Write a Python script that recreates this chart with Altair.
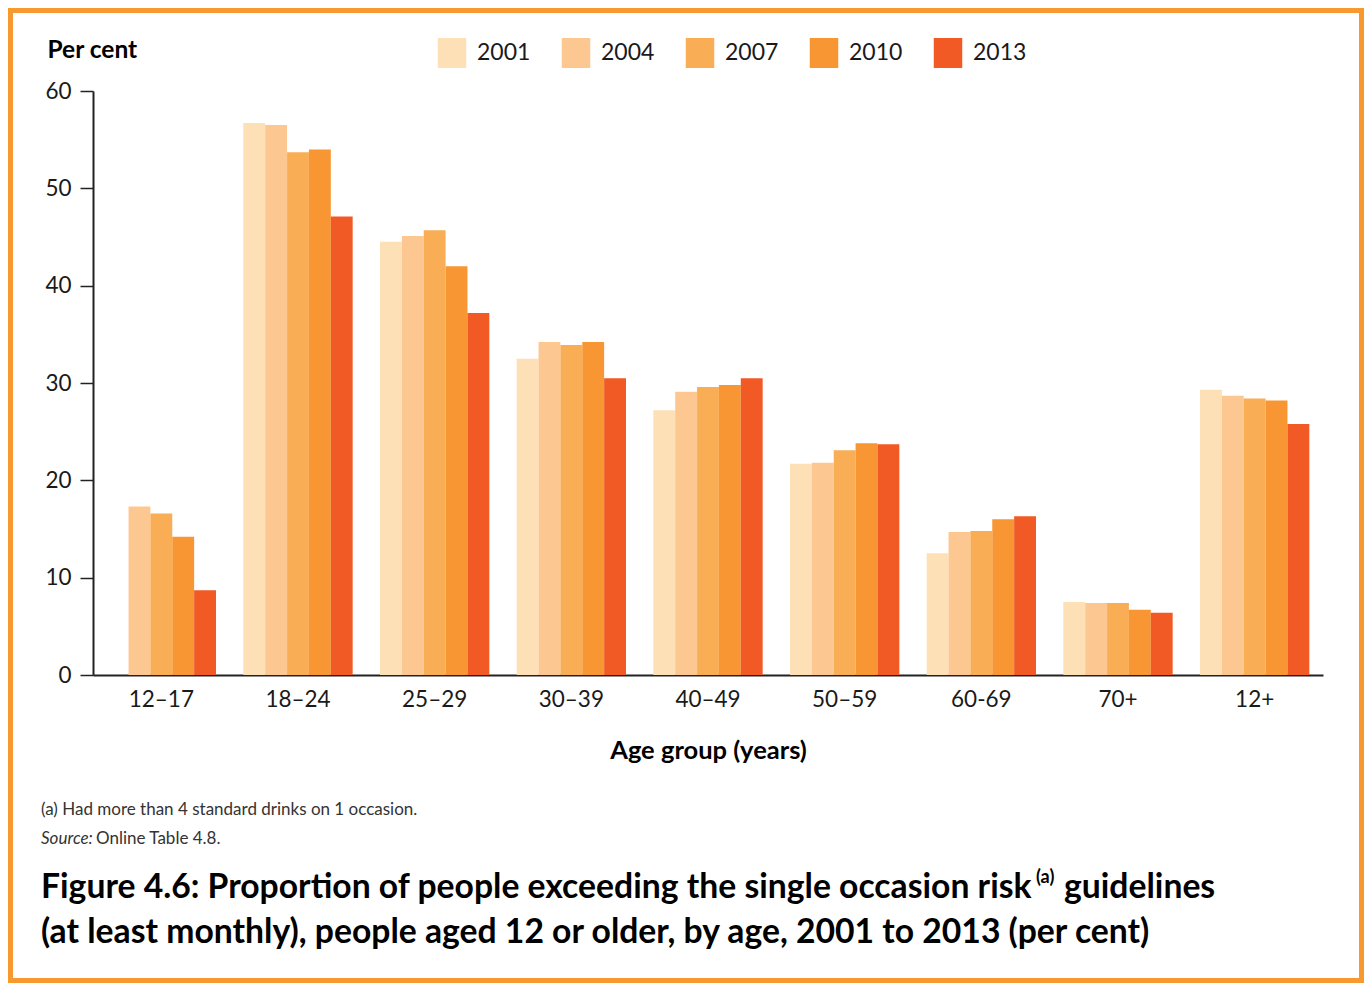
import altair as alt
import pandas as pd

# ---- data ----
ages = ["12–17", "18–24", "25–29", "30–39", "40–49", "50–59", "60-69", "70+", "12+"]
years = ["2001", "2004", "2007", "2010", "2013"]
v2001 = [None, 56.7, 44.5, 32.5, 27.2, 21.7, 12.5, 7.5, 29.3]
v2004 = [17.3, 56.5, 45.1, 34.2, 29.1, 21.8, 14.7, 7.4, 28.7]
v2007 = [16.6, 53.7, 45.7, 33.9, 29.6, 23.1, 14.8, 7.4, 28.4]
v2010 = [14.2, 54.0, 42.0, 34.2, 29.8, 23.8, 16.0, 6.7, 28.2]
v2013 = [8.7, 47.1, 37.2, 30.5, 30.5, 23.7, 16.3, 6.4, 25.8]
colors = ["#FDE0B6", "#FDC792", "#F9AE56", "#F79632", "#F15A24"]

series = dict(zip(years, [v2001, v2004, v2007, v2010, v2013]))
rows = []
for yr, vals in series.items():
    for a, v in zip(ages, vals):
        if v is not None:
            rows.append({"age": a, "year": yr, "value": v})
df = pd.DataFrame(rows)

FONT = "Lato"
INK = "#1a1a1a"

bars = alt.Chart(df).mark_bar().encode(
    x=alt.X("age:N", sort=ages,
            scale=alt.Scale(paddingInner=0.2, paddingOuter=0.1),
            axis=alt.Axis(title="Age group (years)", labelAngle=0, ticks=False,
                          labelFontSize=22.5, labelFont=FONT, labelColor=INK, labelPadding=13,
                          domainColor="#222222", domainWidth=2,
                          titleFont=FONT, titleFontSize=25.5, titleFontWeight="bold",
                          titleColor="#000000", titlePadding=28)),
    xOffset=alt.XOffset("year:N", sort=years, scale=alt.Scale(domain=years)),
    y=alt.Y("value:Q", scale=alt.Scale(domain=[0, 60]),
            axis=alt.Axis(values=[0, 10, 20, 30, 40, 50, 60], grid=False,
                          tickSize=13, tickColor="#222222", tickWidth=1.5,
                          domainColor="#222222", domainWidth=2,
                          labelFontSize=22.5, labelFont=FONT, labelColor=INK, labelPadding=9,
                          title="Per cent", titleAngle=0, titleAlign="left",
                          titleBaseline="middle", titleX=-46, titleY=-41,
                          titleFont=FONT, titleFontSize=24.5, titleFontWeight="bold",
                          titleColor="#000000")),
    color=alt.Color("year:N", sort=years,
                    scale=alt.Scale(domain=years, range=colors),
                    legend=alt.Legend(title=None, orient="none", legendX=344, legendY=-53,
                                      direction="horizontal",
                                      symbolType="M-0.95,-1H0.95V1H-0.95Z",
                                      symbolSize=900, symbolStrokeWidth=0, symbolOpacity=1,
                                      labelFont=FONT, labelFontSize=23, labelColor=INK,
                                      labelOffset=10, columnPadding=30)),
)

def txt(s, x, y, size, weight="normal", style="normal", color="#000000"):
    return alt.Chart(pd.DataFrame({"t": [s]})).mark_text(
        align="left", baseline="alphabetic", font=FONT, fontSize=size,
        fontWeight=weight, fontStyle=style, color=color
    ).encode(x=alt.value(x), y=alt.value(y), text="t:N")

note1 = txt("(a) Had more than 4 standard drinks on 1 occasion.", -52, 724, 17, color="#333333")
note2a = txt("Source:", -52, 753, 17, style="italic", color="#333333")
note2b = txt("Online Table 4.8.", 3, 753, 17, color="#333333")
t1a = txt("Figure 4.6: Proportion of people exceeding the single occasion risk", -52, 807, 33.7, weight="bold")
t1b = txt("(a)", 943, 792, 18, weight="bold")
t1c = txt("guidelines", 971, 807, 33.7, weight="bold")
t2 = txt("(at least monthly), people aged 12 or older, by age, 2001 to 2013 (per cent)", -52, 852, 33.7, weight="bold")

border = alt.Chart(pd.DataFrame({"a": [0]})).mark_rect(
    fillOpacity=0, stroke="#F7992F", strokeWidth=5
).encode(x=alt.value(-82.5), x2=alt.value(1268.5), y=alt.value(-80.5), y2=alt.value(889.5))

chart = alt.layer(bars, note1, note2a, note2b, t1a, t1b, t1c, t2, border).properties(
    width=1230, height=584,
    autosize=alt.AutoSizeParams(type="none"),
    padding={"left": 85, "top": 83, "right": 41, "bottom": 308},
    background="white",
).configure_view(strokeWidth=0)

chart.save("out.html", embed_options={"renderer": "svg", "actions": False})
